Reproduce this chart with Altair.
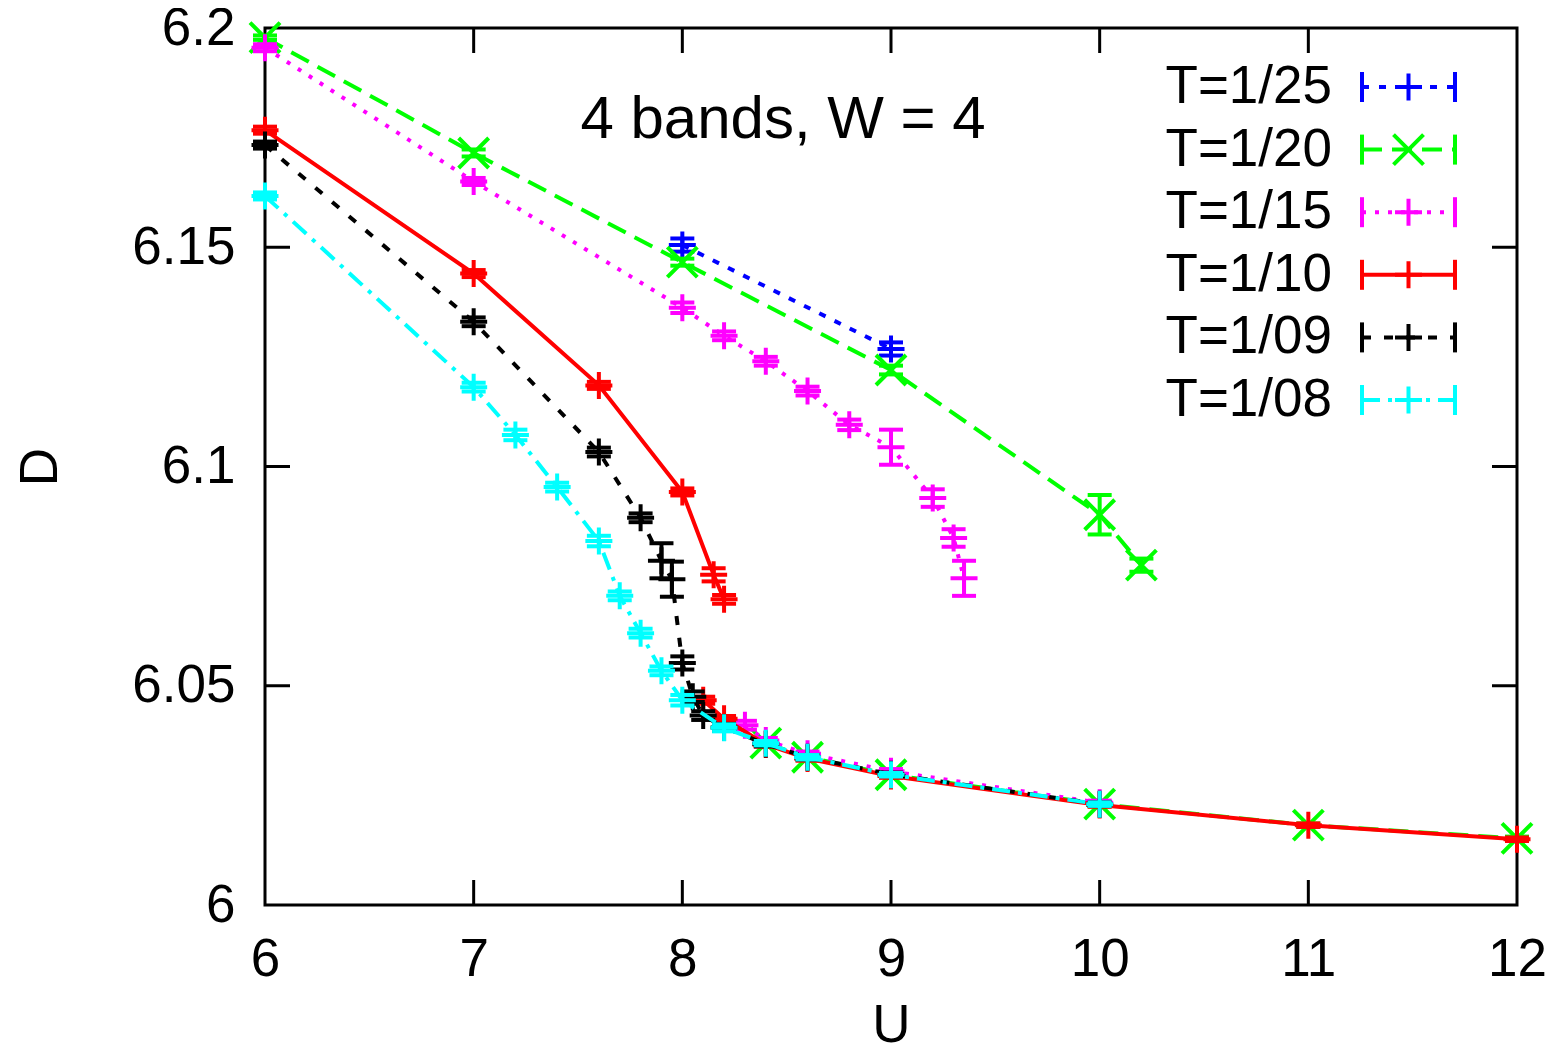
import altair as alt
import pandas as pd

# ---------------- data ----------------
names = ["T=1/25", "T=1/20", "T=1/15", "T=1/10", "T=1/09", "T=1/08"]
colors = ["#0000ff", "#00ff00", "#ff00ff", "#ff0000", "#000000", "#00ffff"]

t25_U = [8.0, 9.0]
t25_D = [6.1505, 6.1268]
t25_E = [0.0015, 0.0015]

t20a_U = [6.0, 7.0, 8.0, 9.0, 10.0, 10.2]
t20a_D = [6.1978, 6.1715, 6.1466, 6.1220, 6.0890, 6.0775]
t20a_E = [0.0005, 0.0008, 0.0008, 0.0010, 0.0045, 0.0015]
t20b_U = [8.4, 8.6, 9.0, 10.0, 11.0, 12.0]
t20b_D = [6.0369, 6.0337, 6.0297, 6.0230, 6.0182, 6.0152]
t20b_E = [0.0005, 0.0005, 0.0005, 0.0005, 0.0004, 0.0004]

t15a_U = [6.0, 7.0, 8.0, 8.2, 8.4, 8.6, 8.8, 9.0, 9.2, 9.3, 9.35]
t15a_D = [6.1955, 6.1650, 6.1362, 6.1298, 6.1240, 6.1172, 6.1095, 6.1044, 6.0928, 6.0837, 6.0745]
t15a_E = [0.0008, 0.0008, 0.0012, 0.0010, 0.0010, 0.0010, 0.0012, 0.0040, 0.0020, 0.0020, 0.0040]
t15b_U = [8.3, 8.4, 8.6, 9.0, 10.0]
t15b_D = [6.0410, 6.0375, 6.0345, 6.0305, 6.0233]
t15b_E = [0.0010, 0.0006, 0.0005, 0.0005, 0.0005]

t10a_U = [6.0, 7.0, 7.6, 8.0, 8.15, 8.2]
t10a_D = [6.1767, 6.1440, 6.1185, 6.0942, 6.0753, 6.0697]
t10a_E = [0.0008, 0.0008, 0.0008, 0.0008, 0.0015, 0.0010]
t10b_U = [8.1, 8.2, 8.4, 8.6, 9.0, 10.0, 11.0, 12.0]
t10b_D = [6.0467, 6.0425, 6.0366, 6.0334, 6.0294, 6.0228, 6.0182, 6.0150]
t10b_E = [0.0008, 0.0006, 0.0005, 0.0005, 0.0004, 0.0004, 0.0004, 0.0004]

t09_U = [6.0, 7.0, 7.6, 7.8, 7.9, 7.95, 8.0, 8.05, 8.1, 8.2, 8.4, 8.6, 9.0, 10.0]
t09_D = [6.1733, 6.1330, 6.1033, 6.0883, 6.0785, 6.0743, 6.0552, 6.0475, 6.0432, 6.0405,
         6.0367, 6.0337, 6.0298, 6.0230]
t09_E = [0.0008, 0.0010, 0.0010, 0.0010, 0.0040, 0.0040, 0.0015, 0.0012, 0.0010, 0.0008,
         0.0005, 0.0005, 0.0004, 0.0004]

t08_U = [6.0, 7.0, 7.2, 7.4, 7.6, 7.7, 7.8, 7.9, 8.0, 8.2, 8.4, 8.6, 9.0, 10.0]
t08_D = [6.1617, 6.1181, 6.1072, 6.0953, 6.0830, 6.0705, 6.0620, 6.0534, 6.0467, 6.0404,
         6.0369, 6.0337, 6.0297, 6.0230]
t08_E = [0.0008, 0.0010, 0.0012, 0.0010, 0.0012, 0.0010, 0.0010, 0.0010, 0.0012, 0.0008,
         0.0005, 0.0005, 0.0004, 0.0004]

x_ticks = [6, 7, 8, 9, 10, 11, 12]
y_ticks = [6.0, 6.05, 6.1, 6.15, 6.2]
inner_x_ticks = [7, 8, 9, 10, 11]
inner_y_ticks = [6.05, 6.1, 6.15]

# ---------------- styling ----------------
W, H = 1252, 877
FONT = "Liberation Sans"
FS = 53
TFS = 60
LW = 4
MW = 4
PLUS = "M-1,0L1,0M0,-1L0,1"
CROSS = "M-1,-1L1,1M-1,1L1,-1"
CAP = "M-1,0L1,0"
dashes = [[7, 10], [20, 10], [4, 9], None, [9, 13], [18, 8, 4, 8]]
shapes = [PLUS, CROSS, PLUS, PLUS, PLUS, PLUS]
shape_sizes = [729, 900, 729, 729, 729, 729]


def frame(branches):
    rows = []
    for b, (U, D, E) in enumerate(branches):
        for u, d, e in zip(U, D, E):
            rows.append({"branch": b, "U": u, "D": d, "lo": d - e, "hi": d + e})
    return pd.DataFrame(rows)


series_data = [
    frame([(t25_U, t25_D, t25_E)]),
    frame([(t20a_U, t20a_D, t20a_E), (t20b_U, t20b_D, t20b_E)]),
    frame([(t15a_U, t15a_D, t15a_E), (t15b_U, t15b_D, t15b_E)]),
    frame([(t10a_U, t10a_D, t10a_E), (t10b_U, t10b_D, t10b_E)]),
    frame([(t09_U, t09_D, t09_E)]),
    frame([(t08_U, t08_D, t08_E)]),
]

xscale = alt.Scale(domain=[6, 12], nice=False, zero=False)
yscale = alt.Scale(domain=[6.0, 6.2], nice=False, zero=False)

X = alt.X("U:Q", scale=xscale, title="U",
          axis=alt.Axis(values=x_ticks, format="d", tickSize=0, domain=False, grid=False,
                        labelFont=FONT, labelFontSize=FS, labelColor="black",
                        labelPadding=28, labelFlush=False,
                        titleFont=FONT, titleFontSize=FS, titleFontWeight="normal",
                        titleColor="black", titleY=120, titleBaseline="middle"))
Y = alt.Y("D:Q", scale=yscale, title="D",
          axis=alt.Axis(values=y_ticks, tickSize=0, domain=False, grid=False,
                        labelExpr="'' + round(datum.value * 100) / 100",
                        labelFont=FONT, labelFontSize=FS, labelColor="black",
                        labelPadding=30, labelFlush=False,
                        titleFont=FONT, titleFontSize=FS, titleFontWeight="normal",
                        titleColor="black", titleX=-225, titleY=H / 2,
                        titleBaseline="middle"))

layers = []

# axes carrier (invisible) so axes are drawn once
base_axes = alt.Chart(pd.DataFrame({"U": [6.0], "D": [6.0]})).mark_point(opacity=0).encode(x=X, y=Y)
layers.append(base_axes)

# inward ticks (gnuplot style, on all four sides)
tx = pd.DataFrame({"U": inner_x_ticks})
ty = pd.DataFrame({"D": inner_y_ticks})
TL = 25
layers.append(alt.Chart(tx).mark_rule(color="black", strokeWidth=3).encode(
    x=alt.X("U:Q", scale=xscale), y=alt.value(H), y2=alt.value(H - TL)))
layers.append(alt.Chart(tx).mark_rule(color="black", strokeWidth=3).encode(
    x=alt.X("U:Q", scale=xscale), y=alt.value(0), y2=alt.value(TL)))
layers.append(alt.Chart(ty).mark_rule(color="black", strokeWidth=3).encode(
    y=alt.Y("D:Q", scale=yscale), x=alt.value(0), x2=alt.value(TL)))
layers.append(alt.Chart(ty).mark_rule(color="black", strokeWidth=3).encode(
    y=alt.Y("D:Q", scale=yscale), x=alt.value(W), x2=alt.value(W - TL)))

for i, df in enumerate(series_data):
    c = colors[i]
    line_kw = dict(color=c, strokeWidth=LW)
    if dashes[i] is not None:
        line_kw["strokeDash"] = dashes[i]
    base = alt.Chart(df)
    xs = alt.X("U:Q", scale=xscale)
    layers.append(base.mark_line(**line_kw).encode(
        x=xs, y=alt.Y("D:Q", scale=yscale), detail="branch:N", order="U:Q"))
    layers.append(base.mark_rule(color=c, strokeWidth=MW).encode(
        x=xs, y=alt.Y("lo:Q", scale=yscale), y2="hi:Q"))
    for f in ["lo", "hi"]:
        layers.append(base.mark_point(shape=CAP, filled=False, color=c, strokeWidth=MW,
                                      size=576, opacity=1).encode(
            x=xs, y=alt.Y(f + ":Q", scale=yscale)))
    layers.append(base.mark_point(shape=shapes[i], filled=False, color=c, strokeWidth=MW,
                                  size=shape_sizes[i], opacity=1).encode(
        x=xs, y=alt.Y("D:Q", scale=yscale)))

# manual gnuplot-style key
key_y0, key_dy = 59, 62.6
kx_text, kx1, kx2 = 1067, 1097, 1190
one = pd.DataFrame({"k": [0]})
for i, nm in enumerate(names):
    ky = key_y0 + i * key_dy
    c = colors[i]
    layers.append(alt.Chart(one).mark_text(text=nm, align="right", baseline="middle",
                                           font=FONT, fontSize=FS, color="black").encode(
        x=alt.value(kx_text), y=alt.value(ky)))
    lkw = dict(color=c, strokeWidth=LW)
    if dashes[i] is not None:
        lkw["strokeDash"] = dashes[i]
    layers.append(alt.Chart(one).mark_rule(**lkw).encode(
        x=alt.value(kx1), x2=alt.value(kx2), y=alt.value(ky)))
    for xx in [kx1, kx2]:
        layers.append(alt.Chart(one).mark_rule(color=c, strokeWidth=MW).encode(
            x=alt.value(xx), y=alt.value(ky - 15), y2=alt.value(ky + 15)))
    layers.append(alt.Chart(one).mark_point(shape=shapes[i], filled=False, color=c,
                                            strokeWidth=MW, size=shape_sizes[i], opacity=1).encode(
        x=alt.value((kx1 + kx2) / 2), y=alt.value(ky)))

# in-plot title
layers.append(alt.Chart(one).mark_text(text="4 bands, W = 4", align="center", baseline="middle",
                                       font=FONT, fontSize=TFS, color="black").encode(
    x=alt.value(518), y=alt.value(92)))

chart = alt.layer(*layers).properties(
    width=W, height=H,
    autosize=alt.AutoSizeParams(type="none"),
    padding={"left": 257, "top": 20, "right": 31, "bottom": 141},
    background="white",
).configure_view(stroke="black", strokeWidth=3)

chart.save("out.html", embed_options={"renderer": "svg", "actions": False})
